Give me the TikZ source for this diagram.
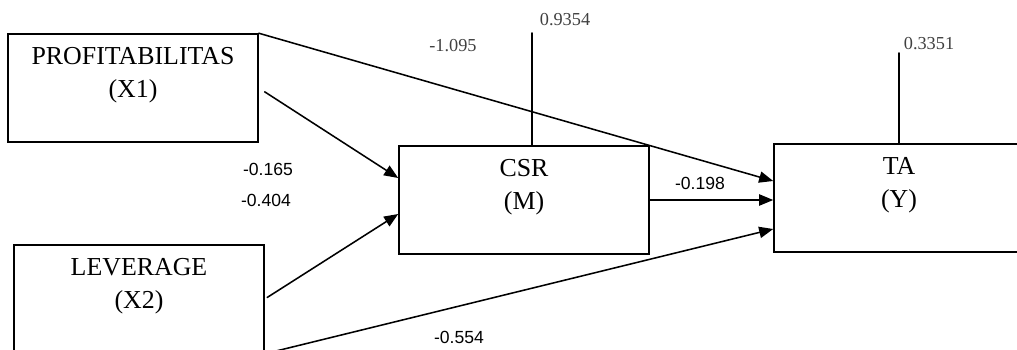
\documentclass[tikz,border=0pt]{standalone}
\usepackage{fontspec}
\setmainfont{Liberation Serif}
\newfontfamily\coeffont{Liberation Sans}
\usetikzlibrary{arrows.meta,calc}

\begin{document}
\begin{tikzpicture}[x=0.025cm,y=-0.025cm,>={Triangle[length=10pt,width=8pt]},line cap=round,
		box/.style={draw,line width=1.1pt,minimum width=177.8pt,minimum height=76.8pt},
		vartext/.style={anchor=north,align=center,inner sep=0pt,yshift=-10pt,
			font=\fontsize{18.4}{23.5}\selectfont},
		coef/.style={inner sep=0pt,font=\coeffont\fontsize{12.5}{14}\selectfont},
		err/.style={inner sep=0pt,text=black!75,font=\fontsize{13}{15}\selectfont},
		link/.style={->,line width=1.1pt}]
		\useasboundingbox (0,0) rectangle (1017,349);
		% variables
		\node[box,label={[vartext]north:{PROFITABILITAS\\(X1)}}] (x1) at (133,88) {};
		\node[box,label={[vartext]north:{LEVERAGE\\(X2)}}] (x2) at (139,299) {};
		\node[box,label={[vartext]north:{CSR\\(M)}}] (csr) at (524,200) {};
		\node[box,label={[vartext]north:{TA\\(Y)}}] (ta) at (899,198) {};
		% paths
		\draw[link,shorten <=5pt] (x1.east) -- ($(csr.west)+(0,-22)$);
		\draw[link,shorten <=2pt] (x2.east) -- ($(csr.west)+(0,14)$);
		\draw[link] (csr.east) -- (csr.east -| ta.west);
		\draw[link] (x1.north east) -- ($(ta.west)+(0,-17)$);
		\draw[link] (x2.south east) -- ($(ta.west)+(0,31)$);
		% residuals
		\coordinate (e1) at (532,33);
		\coordinate (e2) at (899,53);
		\draw[line width=1.1pt] (e1) -- (e1 |- csr.north);
		\draw[line width=1.1pt] (e2) -- (ta.north);
		\node[err] (r1) at (565,20) {0.9354};
		\node[err] (r2) at (929,44) {0.3351};
		% coefficients
		\node[err] (c1) at (453,46) {-1.095};
		\node[coef] (c2) at (268,169) {-0.165};
		\node[coef] (c3) at (266,200) {-0.404};
		\node[coef] (c4) at (700,183) {-0.198};
		\node[coef] (c5) at (459,337) {-0.554};
\end{tikzpicture}
\end{document}
